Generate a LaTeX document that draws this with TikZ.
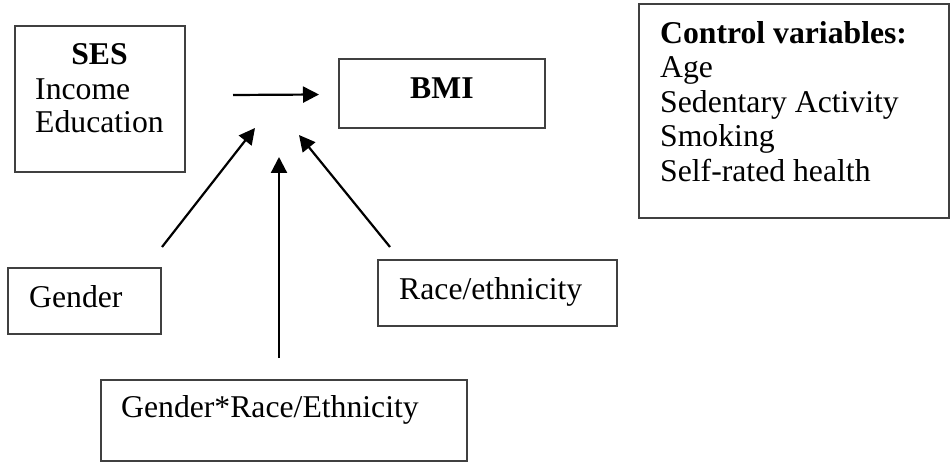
\documentclass[tikz,border=0pt]{standalone}
\usepackage{fontspec}
\setmainfont{Liberation Serif}
\usetikzlibrary{arrows.meta}
\begin{document}
\begin{tikzpicture}[x=1pt,y=-1pt,
  box/.style={draw=black!75,line width=1.4pt,rectangle,inner sep=0pt,outer sep=0pt},
  lbl/.style={anchor=base west,inner sep=0pt,font=\fontsize{31.7}{38}\selectfont},
  arr/.style={line width=2.2pt,-{Triangle[length=16pt,width=16pt]}}]
\useasboundingbox (0,0) rectangle (952,462);
% boxes
\node[box,minimum width=170pt,minimum height=146pt] (ses) at (100,99) {};
\node[box,minimum width=206pt,minimum height=69pt] (bmi) at (442,93.5) {};
\node[box,minimum width=310pt,minimum height=214pt] (ctrl) at (794,111) {};
\node[box,minimum width=153pt,minimum height=66pt] (gender) at (84.5,301) {};
\node[box,minimum width=239pt,minimum height=66pt] (race) at (497.5,293) {};
\node[box,minimum width=366pt,minimum height=81pt] (gxr) at (284,420.5) {};
% texts
\node[lbl,anchor=base] (sesT) at (99.5,65) {\textbf{SES}};
\node[lbl] (sesI) at (35,100) {Income};
\node[lbl] (sesE) at (35,133) {Education};
\node[lbl] (bmiT) at (410,99) {\textbf{BMI}};
\node[lbl] (ctrlT) at (660,43.5) {\textbf{Control variables:}};
\node[lbl] (ctrl1) at (660,78) {Age};
\node[lbl] (ctrl2) at (660,112.5) {Sedentary Activity};
\node[lbl] (ctrl3) at (660,147) {Smoking};
\node[lbl] (ctrl4) at (660,181.5) {Self-rated health};
\node[lbl] (genderT) at (29,307) {Gender};
\node[lbl] (raceT) at (399,299) {Race/ethnicity};
\node[lbl] (gxrT) at (121,417.5) {Gender*Race/Ethnicity};
% arrow ends
\coordinate (hS) at (233,95);
\coordinate (hE) at (319,94.5);
\coordinate (gS) at (162,247);
\coordinate (gE) at (255,128);
\coordinate (vS) at (279,358);
\coordinate (vE) at (279,157);
\coordinate (rS) at (390,247);
\coordinate (rE) at (299,135);
\draw[arr] (hS) -- (hE);
\draw[arr] (gS) -- (gE);
\draw[arr] (vS) -- (vE);
\draw[arr] (rS) -- (rE);
\end{tikzpicture}
\end{document}
